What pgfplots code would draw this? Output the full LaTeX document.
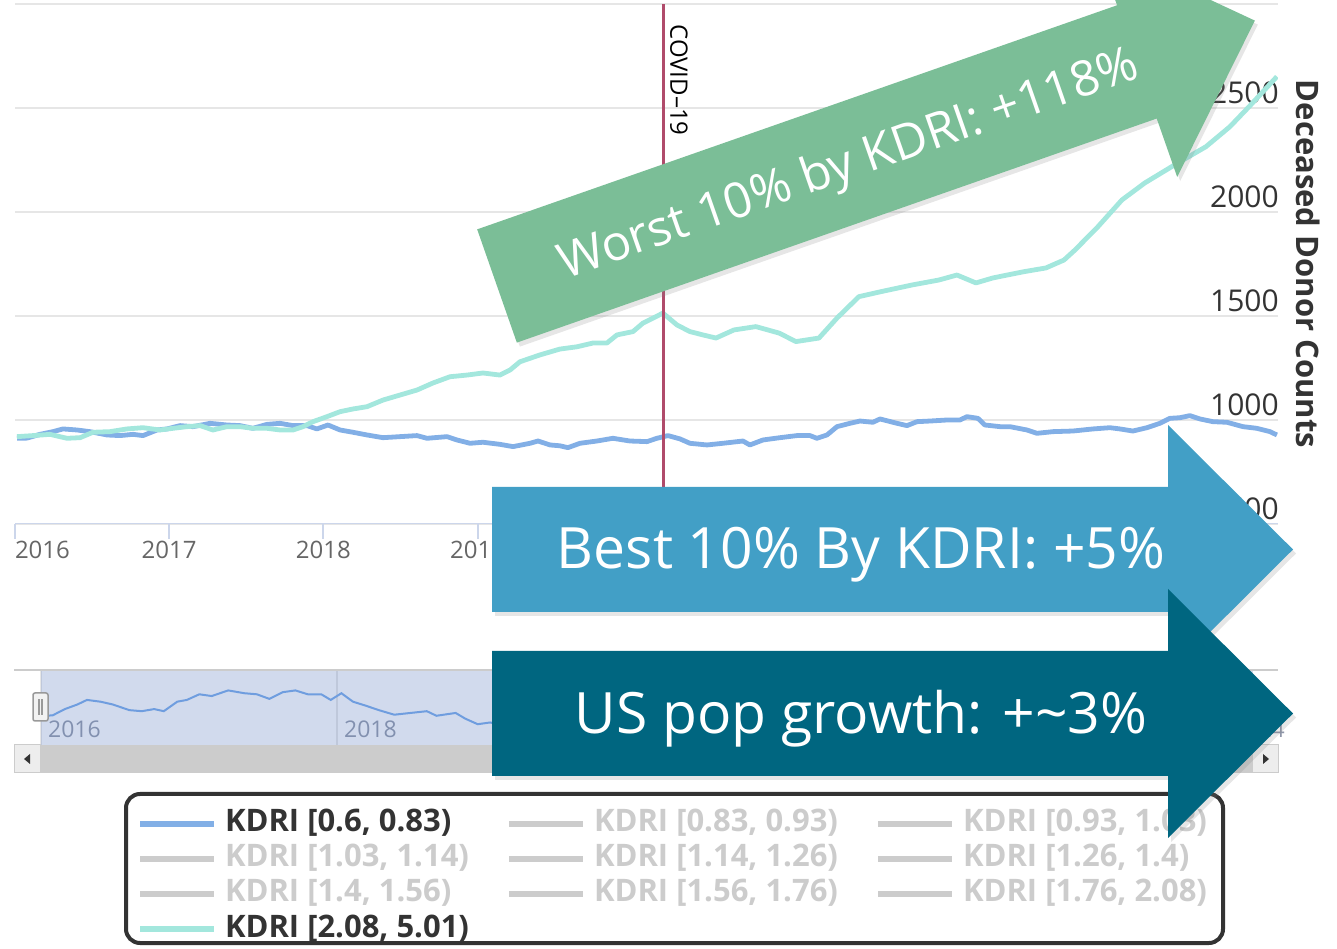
\documentclass[border=0pt]{standalone}
\usepackage{pgfplots}
\pgfplotsset{compat=1.18}
\usepackage{pgfplotstable}
\usepackage{fontspec}
\setmainfont{Open Sans}
\usetikzlibrary{shadows}
\definecolor{gridc}{HTML}{E6E6E6}
\definecolor{axisc}{HTML}{CCD6EB}
\definecolor{tickg}{HTML}{666666}
\definecolor{darkt}{HTML}{333333}
\definecolor{lgray}{HTML}{CCCCCC}
\definecolor{covid}{HTML}{B04B6B}
\definecolor{blueS}{HTML}{82AFE6}
\definecolor{tealS}{HTML}{A3E7DD}
\definecolor{navline}{HTML}{6F9DDF}
\definecolor{navlab}{HTML}{8F96A8}
\definecolor{maskc}{RGB}{102,133,194}
\definecolor{arrowBlue}{HTML}{429FC6}
\definecolor{arrowDark}{HTML}{006680}
\definecolor{arrowGreen}{HTML}{7BBE97}

\pgfplotstableread{
x y
2016.013 912
2016.078 913
2016.162 931
2016.246 944
2016.311 957
2016.402 952
2016.486 944
2016.597 928
2016.681 925
2016.765 931
2016.830 925
2016.921 952
2016.986 957
2017.070 973
2017.154 968
2017.265 984
2017.375 976
2017.459 973
2017.543 960
2017.634 979
2017.719 984
2017.803 973
2017.894 973
2017.958 957
2018.030 976
2018.108 952
2018.192 941
2018.283 928
2018.387 915
2018.497 920
2018.607 925
2018.672 912
2018.802 920
2018.866 904
2018.951 888
2019.035 893
2019.145 883
2019.230 872
2019.340 888
2019.392 899
2019.470 880
2019.534 876
2019.586 867
2019.664 888
2019.774 899
2019.878 912
2019.988 899
2020.099 896
2020.163 912
2020.235 925
2020.313 909
2020.377 888
2020.488 880
2020.591 888
2020.721 899
2020.766 880
2020.851 904
2020.961 915
2021.071 925
2021.156 925
2021.201 912
2021.266 928
2021.331 968
2021.415 984
2021.480 995
2021.564 989
2021.610 1005
2021.720 984
2021.785 973
2021.850 992
2021.934 995
2022.044 1000
2022.128 1000
2022.174 1016
2022.245 1008
2022.290 976
2022.388 968
2022.452 968
2022.563 952
2022.628 936
2022.732 944
2022.861 947
2022.991 957
2023.101 963
2023.166 957
2023.250 947
2023.341 963
2023.425 984
2023.490 1008
2023.555 1011
2023.620 1021
2023.685 1005
2023.769 992
2023.860 989
2023.964 968
2024.054 960
2024.139 944
2024.184 928
}\datablue

\pgfplotstableread{
x y
2016.013 920
2016.117 925
2016.227 931
2016.337 912
2016.422 915
2016.506 941
2016.616 944
2016.726 957
2016.830 963
2016.940 952
2017.025 960
2017.115 968
2017.200 973
2017.284 952
2017.375 968
2017.459 968
2017.543 960
2017.634 960
2017.719 952
2017.803 952
2017.868 968
2017.933 992
2018.023 1016
2018.108 1040
2018.192 1053
2018.283 1064
2018.387 1096
2018.497 1120
2018.607 1144
2018.711 1178
2018.821 1208
2018.931 1216
2019.035 1226
2019.145 1216
2019.210 1240
2019.275 1280
2019.405 1313
2019.534 1341
2019.645 1352
2019.748 1370
2019.839 1370
2019.904 1409
2020.008 1425
2020.073 1466
2020.138 1490
2020.202 1514
2020.293 1457
2020.377 1425
2020.462 1409
2020.546 1394
2020.663 1433
2020.805 1449
2020.955 1418
2021.065 1377
2021.214 1394
2021.331 1490
2021.473 1593
2021.616 1617
2021.817 1649
2021.992 1673
2022.109 1697
2022.232 1659
2022.342 1683
2022.543 1713
2022.686 1731
2022.803 1769
2022.874 1817
2023.023 1929
2023.179 2058
2023.328 2140
2023.542 2236
2023.724 2314
2023.879 2410
2024.003 2506
2024.184 2651
}\datateal

\newcommand{\LE}[1]{\makebox[249pt][l]{#1}}

\begin{document}
\begin{tikzpicture}[x=1pt,y=1pt]
\path[use as bounding box, clip] (0,0) rectangle (1337,949);

% ---------------- main chart ----------------
\begin{axis}[
  at={(15pt,425pt)}, anchor=south west,
  width=1263pt, height=520pt, scale only axis,
  xmin=2016, xmax=2024.191, ymin=500, ymax=3000,
  axis line style={draw=none},
  xtick={2016,2017,2018,2019,2020,2021,2022,2023,2024},
  xticklabels={\makebox[0pt][l]{2016},2017,2018,2019,2020,2021,2022,2023,{}},
  xtick pos=lower, tick align=outside, major tick length=15pt,
  xtick style={draw=axisc, line width=2pt},
  xticklabel style={font=\fontsize{24}{28}\selectfont, text=tickg, anchor=north, inner sep=0pt, yshift=-2pt},
  ytick={500,1000,1500,2000,2500,3000},
  yticklabels={500,1000,1500,2000,2500,{}},
  ytick pos=right, yticklabel pos=right,
  ytick style={draw=none},
  yticklabel style={font=\fontsize{30}{34}\selectfont, text=darkt, anchor=south east, inner sep=0pt, xshift=-14pt, yshift=4pt},
  ymajorgrids, grid style={draw=gridc, line width=2pt},
  legend columns=3,
  legend cell align=left,
  legend image code/.code={\draw[#1, line width=6pt, line cap=butt] (0pt,-8pt) -- (74pt,-8pt);},
  legend style={
    at={(0.08789,-0.51923)}, anchor=north west,
    draw=darkt, line width=4pt, rounded corners=14pt, fill=white, outer sep=0pt,
    inner xsep=11pt, inner ysep=6pt,
    column sep=8pt, row sep=3pt,
    /tikz/every even column/.append style={column sep=32pt},
    font=\fontsize{31}{35}\selectfont\bfseries,
    text=darkt,
    nodes={inner sep=0pt, text height=32pt, text depth=0pt},
  },
]
\draw[axisc, line width=2pt] (rel axis cs:0,0) -- (rel axis cs:1,0);
\addplot[blueS, line width=4.8pt, line join=round, mark=none] table[x=x,y=y] {\datablue};
\addlegendentry{\LE{KDRI [0.6, 0.83)}}
\addlegendimage{lgray}
\addlegendentry[text=lgray]{\LE{KDRI [0.83, 0.93)}}
\addlegendimage{lgray}
\addlegendentry[text=lgray]{\LE{KDRI [0.93, 1.03)}}
\addlegendimage{lgray}
\addlegendentry[text=lgray]{\LE{KDRI [1.03, 1.14)}}
\addlegendimage{lgray}
\addlegendentry[text=lgray]{\LE{KDRI [1.14, 1.26)}}
\addlegendimage{lgray}
\addlegendentry[text=lgray]{\LE{KDRI [1.26, 1.4)}}
\addlegendimage{lgray}
\addlegendentry[text=lgray]{\LE{KDRI [1.4, 1.56)}}
\addlegendimage{lgray}
\addlegendentry[text=lgray]{\LE{KDRI [1.56, 1.76)}}
\addlegendimage{lgray}
\addlegendentry[text=lgray]{\LE{KDRI [1.76, 2.08)}}
\addplot[tealS, line width=4.8pt, line join=round, mark=none] table[x=x,y=y] {\datateal};
\addlegendentry{\LE{KDRI [2.08, 5.01)}}
\draw[covid, line width=3pt] (axis cs:2020.204,500) -- (axis cs:2020.204,3000);
\end{axis}

\node[rotate=-90, font=\fontsize{24}{28}\selectfont, text=black] at (679,869) {COVID–19};
\node[rotate=-90, font=\fontsize{31}{35}\selectfont\bfseries, text=darkt] at (1308,685) {Deceased Donor Counts};

% ---------------- navigator ----------------
\begin{axis}[
  at={(14pt,204pt)}, anchor=south west,
  width=1264pt, height=75pt, scale only axis,
  xmin=2015.818, xmax=2024.358, ymin=829, ymax=1042,
  axis line style={draw=none},
  xtick={2016,2018,2020,2022,2024},
  xticklabels={2016,2018,2020,2022,2024},
  xmajorgrids, grid style={draw=gridc, line width=2pt},
  xtick style={draw=none}, ytick=\empty,
  xticklabel style={font=\fontsize{23}{27}\selectfont, text=navlab, anchor=south west, inner sep=0pt, xshift=7pt, yshift=7pt},
]
\fill[maskc, opacity=0.3] (axis cs:2016,829) rectangle (axis cs:2024.19,1042);
\addplot[navline, line width=2pt, mark=none] table[x=x,y=y] {\datablue};
\end{axis}
\draw[lgray, line width=2pt] (14,279) -- (1278,279);
\filldraw[fill=black!5, draw=black!40, line width=1.5pt, rounded corners=2pt] (33,228) rectangle (48,256);
\draw[black!40, line width=1.2pt] (39,234) -- (39,250) (42,234) -- (42,250);
% scrollbar
\fill[lgray] (14,176) rectangle (1278,204);
\filldraw[fill=black!7, draw=lgray, line width=1pt] (14,176) rectangle (40,204);
\filldraw[fill=black!7, draw=lgray, line width=1pt] (1252,176) rectangle (1278,204);
\fill[black!80] (24,190) -- (30,195) -- (30,185) -- cycle;
\fill[black!80] (1269,190) -- (1263,195) -- (1263,185) -- cycle;

% ---------------- arrows ----------------
\fill[arrowBlue, drop shadow={opacity=0.2, shadow xshift=3pt, shadow yshift=-4pt}]
  (492,337) -- (492,462) -- (1168,462) -- (1168,524) -- (1293,399.5) -- (1168,275) -- (1168,337) -- cycle;
\node[anchor=base, text=white, font=\fontsize{57}{60}\selectfont] at (861,380) {Best 10\% By KDRI: +5\%};

\fill[arrowDark, drop shadow={opacity=0.2, shadow xshift=3pt, shadow yshift=-4pt}]
  (492,173) -- (492,298) -- (1168,298) -- (1168,360) -- (1293,235.5) -- (1168,111) -- (1168,173) -- cycle;
\node[anchor=base, text=white, font=\fontsize{57}{60}\selectfont] at (861,215) {US pop growth: +\textasciitilde3\%};

\begin{scope}[shift={(497,663)}, rotate=19.3]
\fill[arrowGreen, drop shadow={opacity=0.2, shadow xshift=3pt, shadow yshift=-4pt}]
  (0,-60) -- (0,60) -- (678,60) -- (678,122) -- (803,0) -- (678,-122) -- (678,-60) -- cycle;
\node[anchor=base, text=white, rotate=19.3, font=\fontsize{49}{53}\selectfont] at (372,-16) {Worst 10\% by KDRI: +118\%};
\end{scope}
\end{tikzpicture}
\end{document}
